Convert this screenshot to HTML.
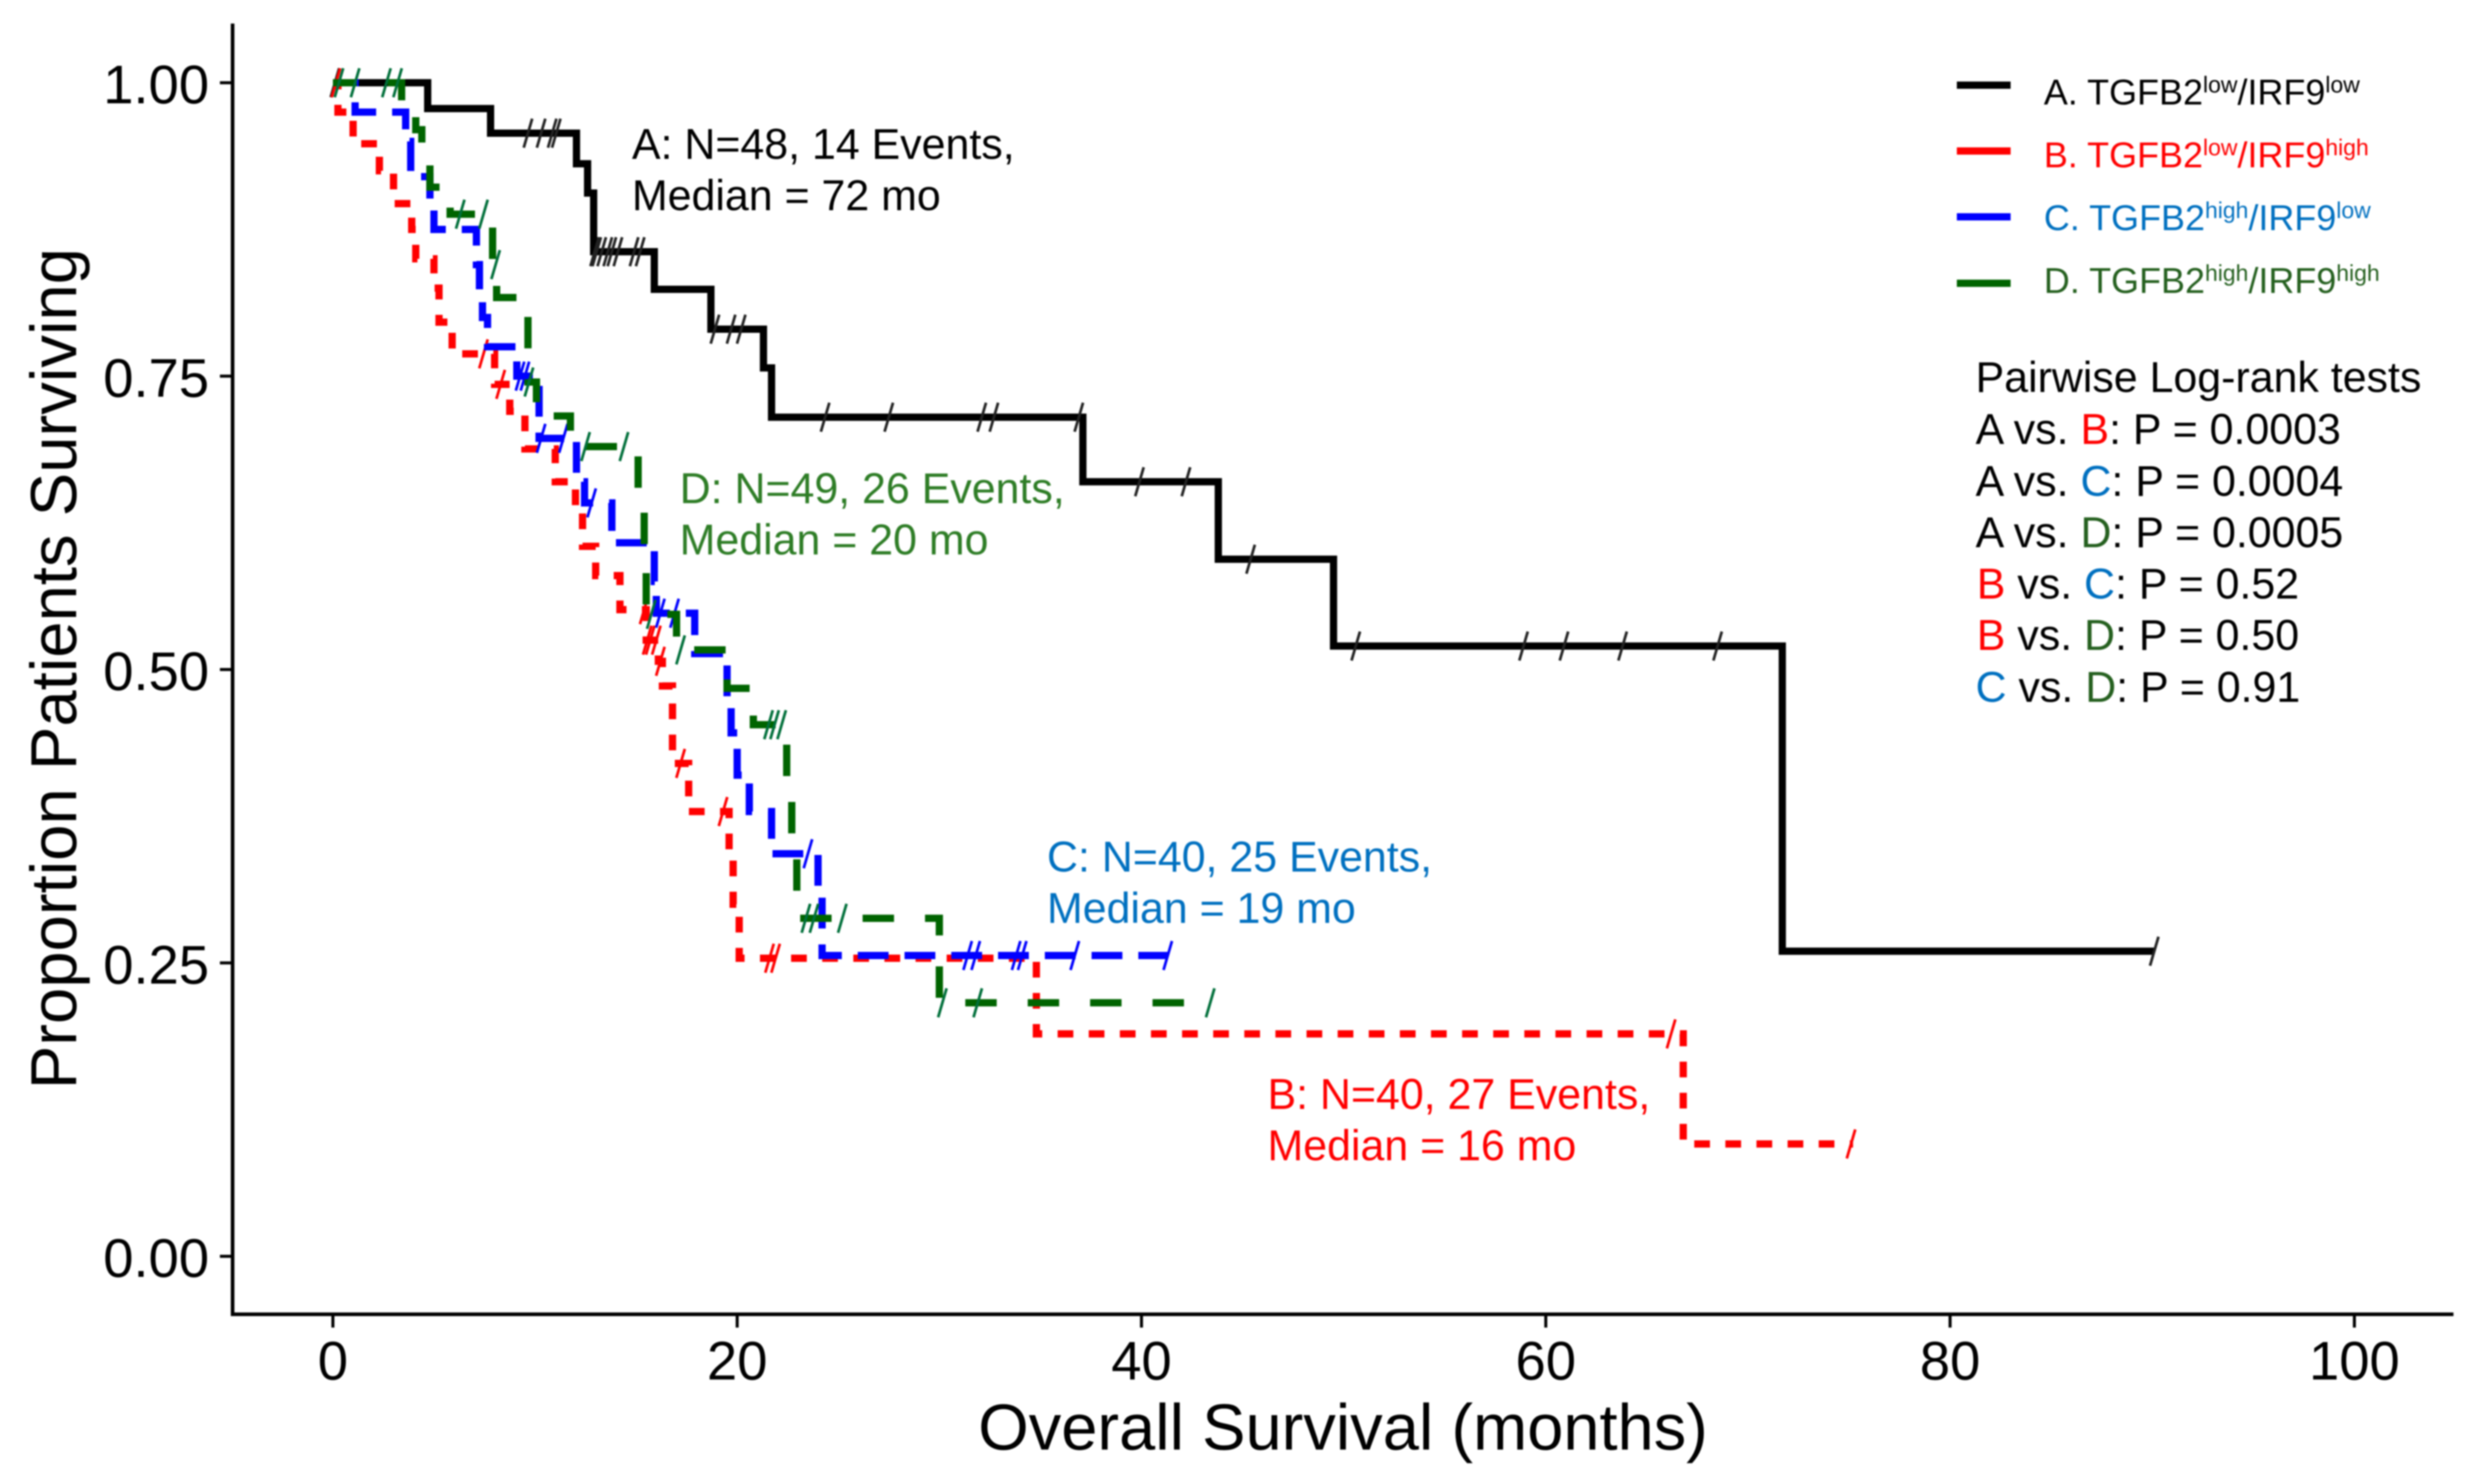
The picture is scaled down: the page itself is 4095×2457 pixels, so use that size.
<!DOCTYPE html>
<html lang="en">
<head>
<meta charset="utf-8">
<title>Overall survival by TGFB2 / IRF9 expression</title>
<style>
html,body{margin:0;padding:0;background:#fff;}
body{width:4095px;height:2457px;overflow:hidden;}
svg{display:block;filter:blur(1.2px);}
text{font-family:"Liberation Sans",Arial,sans-serif;}
</style>
</head>
<body>
<svg id="chart" xmlns="http://www.w3.org/2000/svg" width="4095" height="2457" viewBox="0 0 4095 2457">
  <rect x="0" y="0" width="4095" height="2457" fill="#ffffff"/>
  <g id="axes"></g>
  <g id="series"></g>

  <text x="2223" y="2400" font-size="107.6" text-anchor="middle" fill="#000">Overall Survival (months)</text>
  <text transform="translate(126,1107) rotate(-90)" font-size="108" text-anchor="middle" fill="#000">Proportion Patients Surviving</text>

  <g font-size="71" fill="#000">
    <text x="1046" y="263">A: N=48, 14 Events,</text>
    <text x="1046" y="348">Median = 72 mo</text>
  </g>
  <g font-size="71" fill="#2e7d26">
    <text x="1125" y="833">D: N=49, 26 Events,</text>
    <text x="1125" y="918">Median = 20 mo</text>
  </g>
  <g font-size="71" fill="#0070c0">
    <text x="1733" y="1443">C: N=40, 25 Events,</text>
    <text x="1733" y="1528">Median = 19 mo</text>
  </g>
  <g font-size="71" fill="#ff0000">
    <text x="2098" y="1836">B: N=40, 27 Events,</text>
    <text x="2098" y="1921">Median = 16 mo</text>
  </g>

  <g font-size="59.5">
    <line x1="3239" x2="3328" y1="141" y2="141" stroke="#000000" stroke-width="12"/>
    <text x="3383" y="173" fill="#000000">A. TGFB2<tspan font-size="38" dy="-20">low</tspan><tspan dy="20">/IRF9</tspan><tspan font-size="38" dy="-20">low</tspan></text>
    <line x1="3239" x2="3328" y1="250" y2="250" stroke="#ff0000" stroke-width="12"/>
    <text x="3383" y="277" fill="#ff0000">B. TGFB2<tspan font-size="38" dy="-20">low</tspan><tspan dy="20">/IRF9</tspan><tspan font-size="38" dy="-20">high</tspan></text>
    <line x1="3239" x2="3328" y1="359" y2="359" stroke="#0000ff" stroke-width="12"/>
    <text x="3383" y="381" fill="#0070c0">C. TGFB2<tspan font-size="38" dy="-20">high</tspan><tspan dy="20">/IRF9</tspan><tspan font-size="38" dy="-20">low</tspan></text>
    <line x1="3239" x2="3328" y1="469" y2="469" stroke="#006400" stroke-width="12"/>
    <text x="3383" y="485" fill="#25601f">D. TGFB2<tspan font-size="38" dy="-20">high</tspan><tspan dy="20">/IRF9</tspan><tspan font-size="38" dy="-20">high</tspan></text>
  </g>

  <g font-size="71" fill="#000">
    <text x="3270" y="649">Pairwise Log-rank tests</text>
    <text x="3270" y="735">A vs. <tspan fill="#ff0000">B</tspan>: P = 0.0003</text>
    <text x="3270" y="821">A vs. <tspan fill="#0070c0">C</tspan>: P = 0.0004</text>
    <text x="3270" y="906">A vs. <tspan fill="#25601f">D</tspan>: P = 0.0005</text>
    <text x="3272" y="991"><tspan fill="#ff0000">B</tspan> vs. <tspan fill="#0070c0">C</tspan>: P = 0.52</text>
    <text x="3272" y="1076"><tspan fill="#ff0000">B</tspan> vs. <tspan fill="#25601f">D</tspan>: P = 0.50</text>
    <text x="3270" y="1162"><tspan fill="#0070c0">C</tspan> vs. <tspan fill="#25601f">D</tspan>: P = 0.91</text>
  </g>
</svg>
<script>
// ---- chart data ----
var xTickValues = [0, 20, 40, 60, 80, 100];
var yTickValues = [0, 0.25, 0.5, 0.75, 1];
var yTickLabels = ["0.00", "0.25", "0.50", "0.75", "1.00"];

var timesA = [0, 4.69, 7.8, 12.05, 12.6, 12.9, 15.9, 18.7, 21.3, 21.7, 37.1, 43.8, 49.5, 71.7, 90.1];
var survivalA = [1, 0.978, 0.957, 0.931, 0.906, 0.856, 0.824, 0.79, 0.757, 0.715, 0.66, 0.594, 0.52, 0.26, 0.26];
var censorA = [0.1, 9.65, 10.3, 10.85, 11.05, 12.95, 13.05, 13.3, 13.6, 13.8, 14.1, 14.9, 15.2, 18.9, 19.7, 20.2, 24.35, 27.5, 32.1, 32.7, 36.9, 39.9, 42.2, 45.4, 50.6, 58.9, 60.9, 63.8, 68.5, 90.1];

var timesB = [0, 0.25, 1.0, 2.3, 3.0, 3.9, 4.1, 5.0, 5.25, 5.9, 8.0, 8.75, 9.5, 11, 12, 12.35, 13, 14.2, 15.5, 16.1, 16.3, 16.8, 17.6, 19.6, 19.8, 20.1, 34.8, 66.8, 75.2];
var survivalB = [1, 0.975, 0.948, 0.925, 0.897, 0.875, 0.85, 0.825, 0.796, 0.769, 0.743, 0.72, 0.688, 0.66, 0.635, 0.605, 0.58, 0.551, 0.525, 0.507, 0.486, 0.42, 0.379, 0.34, 0.30, 0.254, 0.1895, 0.0957, 0.0957];
var censorB = [0.15, 7.45, 8.3, 15.4, 15.55, 15.7, 16.0, 16.2, 17.2, 19.3, 21.6, 21.9, 66.2, 75.1];

var timesC = [0, 1.1, 3.6, 3.85, 4.8, 5.0, 7.1, 7.25, 7.4, 7.65, 9.1, 10.2, 12.05, 12.45, 13.8, 15.9, 16, 17.9, 19.5, 19.7, 20, 20.6, 21.7, 24, 24.2, 41.3];
var survivalC = [1, 0.975, 0.95, 0.92, 0.9, 0.875, 0.845, 0.818, 0.8, 0.775, 0.75, 0.697, 0.66, 0.642, 0.608, 0.575, 0.548, 0.5136, 0.471, 0.446, 0.41, 0.379, 0.343, 0.31, 0.2563, 0.2563];
var censorC = [9.26, 9.5, 10.3, 11.4, 12.8, 16.2, 16.9, 23.5, 31.4, 31.8, 33.8, 34.1, 36.7, 41.3];

var timesD = [0, 3.4, 4.1, 4.4, 4.8, 5.8, 7.9, 8.1, 9.65, 10.07, 11.75, 15.1, 15.4, 15.5, 17, 19.5, 20.8, 22.45, 22.7, 22.95, 30, 43.4];
var survivalD = [1, 0.98, 0.96, 0.94, 0.911, 0.888, 0.845, 0.817, 0.745, 0.716, 0.69, 0.64, 0.6, 0.547, 0.5167, 0.484, 0.453, 0.40, 0.345, 0.288, 0.216, 0.216];
var censorD = [0.3, 1.1, 2.65, 3.2, 6.3, 7.45, 8.05, 9.7, 12.5, 14.4, 15.75, 17.2, 21.55, 21.85, 22.2, 23.4, 23.8, 25.2, 30.15, 31.9, 43.4];

// ---- axis functions ----
var SVGNS = "http://www.w3.org/2000/svg";
function xScale(m) { return 551 + 33.46 * m; }
function yScale(v) { return 2080 - 1943 * v; }
function make(tag, attrs) {
  var el = document.createElementNS(SVGNS, tag);
  for (var k in attrs) { el.setAttribute(k, attrs[k]); }
  return el;
}
function survivalAt(times, survival, t) {
  var s = survival[0];
  for (var i = 0; i < times.length; i++) { if (times[i] <= t) { s = survival[i]; } }
  return s;
}

// ---- axes ----
var axes = document.getElementById("axes");
var yAxisLine = make("line", {x1: 385, x2: 385, y1: 39, y2: 2179, stroke: "#000", "stroke-width": 6});


axes.appendChild(yAxisLine);
var xAxisLine = make("line", {x1: 382, x2: 4061, y1: 2176, y2: 2176, stroke: "#000", "stroke-width": 6});


axes.appendChild(xAxisLine);

xTickValues.forEach(function (v) {
  var tick = make("line", {x1: xScale(v), x2: xScale(v), y1: 2176, y2: 2198, stroke: "#000", "stroke-width": 5});
  
  
  axes.appendChild(tick);
  var label = make("text", {x: xScale(v), y: 2284, "font-size": 90, "text-anchor": "middle", fill: "#000"});
  
  
  label.textContent = String(v);
  axes.appendChild(label);
});
yTickValues.forEach(function (v, i) {
  var tick = make("line", {x1: 364, x2: 385, y1: yScale(v), y2: yScale(v), stroke: "#000", "stroke-width": 5});
  
  
  axes.appendChild(tick);
  var label = make("text", {x: 346, y: yScale(v) + 34, "font-size": 90, "text-anchor": "end", fill: "#000"});
  
  
  label.textContent = yTickLabels[i];
  axes.appendChild(label);
});

// ---- series ----
var seriesGroup = document.getElementById("series");
function stepPath(times, survival) {
  var d = "M" + xScale(times[0]) + " " + yScale(survival[0]);
  for (var i = 1; i < times.length; i++) {
    d += "H" + xScale(times[i]) + "V" + yScale(survival[i]);
  }
  return d;
}
function drawSeries(name, times, survival, censor, color, dash, offset, tickColor) {
  var g = make("g", {});
  
  
  var path = make("path", {d: stepPath(times, survival), fill: "none", stroke: color, "stroke-width": 12, "stroke-linejoin": "miter"});
  if (dash) {
    path.setAttribute("stroke-dasharray", dash);
    path.setAttribute("stroke-dashoffset", offset);
  }
  
  
  g.appendChild(path);
  censor.forEach(function (t) {
    var cx = xScale(t);
    var cy = yScale(survivalAt(times, survival, t));
    var mark = make("line", {x1: cx - 7, y1: cy + 24, x2: cx + 7, y2: cy - 24, stroke: tickColor, "stroke-width": 4.5});
    
    
    g.appendChild(mark);
  });
  seriesGroup.appendChild(g);
}
drawSeries("curve-a", timesA, survivalA, censorA, "#000000", null, 0, "#222222");
drawSeries("curve-b", timesB, survivalB, censorB, "#ff0000", "26 25.5", 6.6, "#ff0000");
drawSeries("curve-c", timesC, survivalC, censorC, "#0000ff", "51 26.4", 8.2, "#0000ff");
drawSeries("curve-d", timesD, survivalD, censorD, "#006400", "52 51.3", 12.4, "#006f3a");
</script>
</body>
</html>
